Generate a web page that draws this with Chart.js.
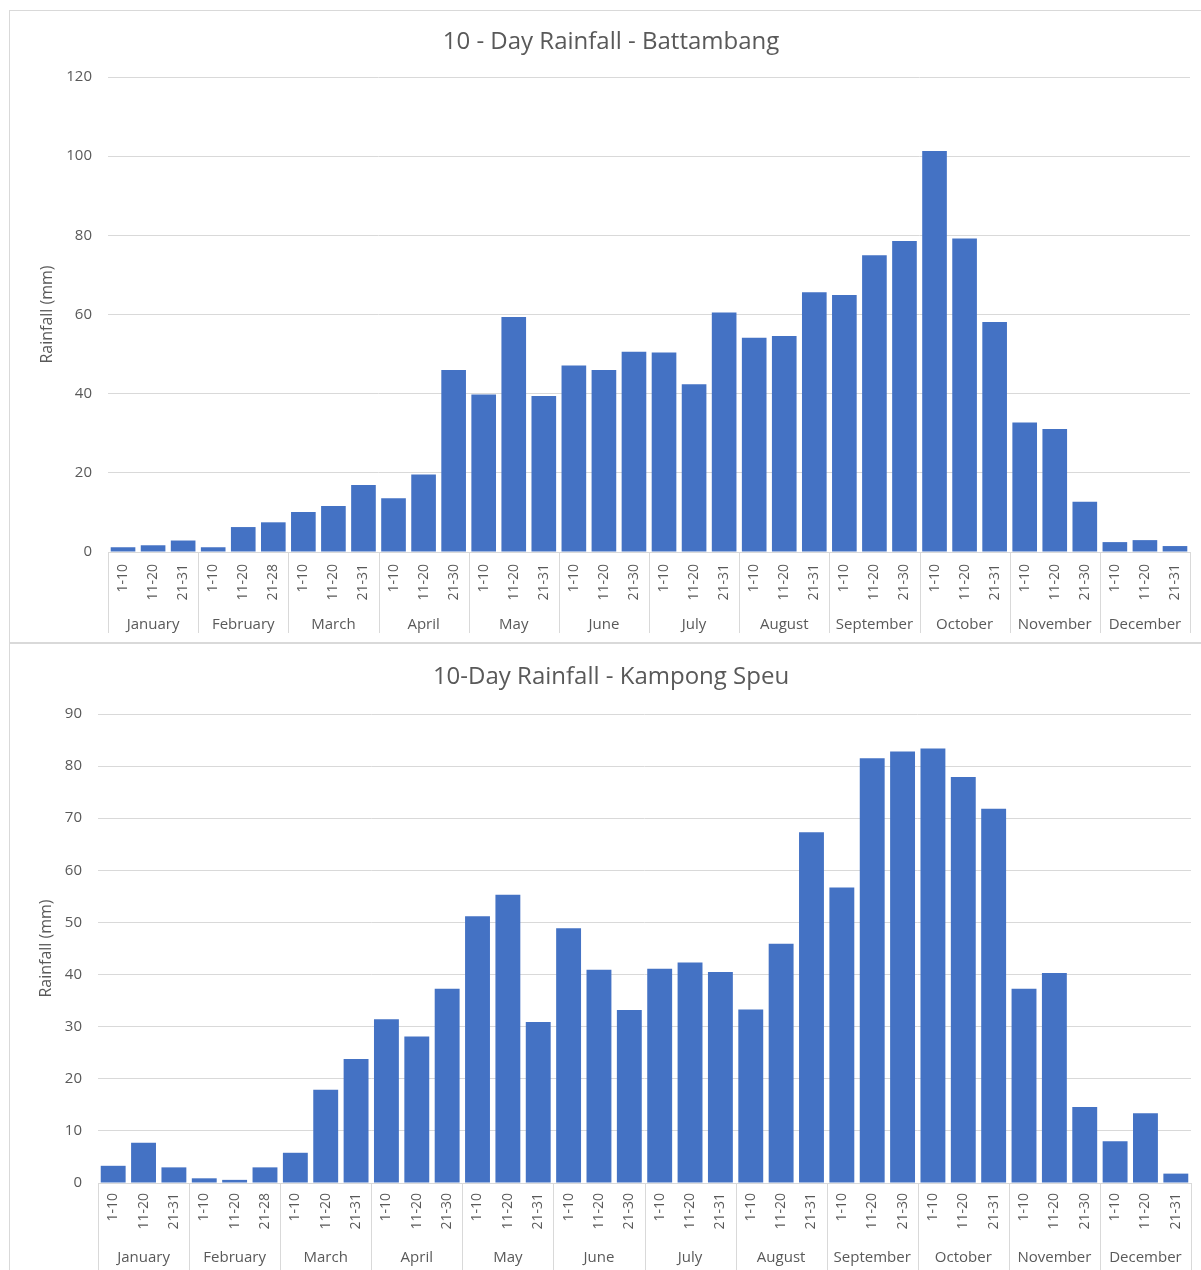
<!DOCTYPE html>
<html>
<head>
<meta charset="utf-8">
<title>10-Day Rainfall</title>
<script src="https://cdn.jsdelivr.net/npm/chart.js@4.4.1/dist/chart.umd.min.js"></script>
<style>
  html, body { margin: 0; padding: 0; background: #fff; width: 1201px; height: 1270px; overflow: hidden; }
  .panel { position: absolute; left: 9px; width: 1204px; background: #fff; }
  .panel canvas { position: absolute; left: 0; top: 0; display: block; }
  .frame { position: absolute; left: 0; top: 0; right: 0; bottom: 0; border: 1px solid #d9d9d9; pointer-events: none; }
  #panelTop { top: 10px; height: 633px; }
  #panelBottom { top: 643px; height: 640px; }
</style>
</head>
<body>
<div class="panel" id="panelTop"><canvas id="chartTop" width="1204" height="633"></canvas><div class="frame"></div></div>
<div class="panel" id="panelBottom"><canvas id="chartBottom" width="1204" height="640"></canvas><div class="frame"></div></div>
<script>
// Months shown on the outer category row
const months = ['January', 'February', 'March', 'April', 'May', 'June',
                'July', 'August', 'September', 'October', 'November', 'December'];

// Dekad (10-day period) labels, three per month
const periodLabels = [
  '1-10', '11-20', '21-31',   // Jan
  '1-10', '11-20', '21-28',   // Feb
  '1-10', '11-20', '21-31',   // Mar
  '1-10', '11-20', '21-30',   // Apr
  '1-10', '11-20', '21-31',   // May
  '1-10', '11-20', '21-30',   // Jun
  '1-10', '11-20', '21-31',   // Jul
  '1-10', '11-20', '21-31',   // Aug
  '1-10', '11-20', '21-30',   // Sep
  '1-10', '11-20', '21-31',   // Oct
  '1-10', '11-20', '21-30',   // Nov
  '1-10', '11-20', '21-31'    // Dec
];

// 10-day rainfall totals (mm)
const battambangRain = [
  1.2, 1.7, 2.9,
  1.2, 6.3, 7.5,
  10.1, 11.6, 16.9,
  13.6, 19.6, 46.0,
  39.8, 59.4, 39.4,
  47.1, 46.0, 50.6,
  50.4, 42.4, 60.5,
  54.1, 54.6, 65.6,
  64.9, 75.0, 78.6,
  101.3, 79.2, 58.1,
  32.7, 31.1, 12.7,
  2.5, 3.0, 1.5
];

const kampongSpeuRain = [
  3.3, 7.7, 3.0,
  0.9, 0.6, 3.0,
  5.8, 17.9, 23.8,
  31.4, 28.1, 37.3,
  51.2, 55.3, 30.9,
  48.9, 40.9, 33.2,
  41.1, 42.3, 40.5,
  33.3, 45.9, 67.3,
  56.7, 81.5, 82.8,
  83.4, 77.9, 71.8,
  37.3, 40.3, 14.6,
  8.0, 13.4, 1.8
];

// Y-axis ranges
const battambangTicks = { max: 120, step: 20 };
const kampongSpeuTicks = { max: 90, step: 10 };

const FONT = '"Open Sans", "Noto Sans", sans-serif';
const TEXT = '#595959';
const GRID = '#d9d9d9';
const BAR = '#4472C4';
const PER_MONTH = 3;

// Draws the month row under the dekad labels, with separators between months
const monthGroupPlugin = {
  id: 'monthGroups',
  afterDraw(chart, args, opts) {
    const xs = chart.scales.x;
    const ctx = chart.ctx;
    const top = xs.top;
    ctx.save();
    ctx.strokeStyle = GRID;
    ctx.lineWidth = 1;
    for (let k = 0; k <= months.length; k++) {
      let px;
      if (k === 0) px = xs.left;
      else if (k === months.length) px = xs.right;
      else px = (xs.getPixelForValue(k * PER_MONTH - 1) + xs.getPixelForValue(k * PER_MONTH)) / 2;
      px = Math.round(px) + 0.5;
      ctx.beginPath();
      ctx.moveTo(px, top);
      ctx.lineTo(px, top + opts.lineLength);
      ctx.stroke();
    }
    ctx.fillStyle = TEXT;
    ctx.font = '15px ' + FONT;
    ctx.textAlign = 'center';
    ctx.textBaseline = 'middle';
    months.forEach((m, k) => {
      ctx.fillText(m, xs.getPixelForValue(k * PER_MONTH + 1), top + opts.labelOffset);
    });
    ctx.restore();
  }
};

function rainfallChart(canvasId, title, values, ticks, g) {
  return new Chart(document.getElementById(canvasId), {
    type: 'bar',
    data: {
      labels: periodLabels,
      datasets: [{
        data: values,
        backgroundColor: BAR,
        borderWidth: 0,
        barPercentage: 0.82,
        categoryPercentage: 1
      }]
    },
    options: {
      responsive: false,
      animation: false,
      layout: { padding: { left: g.side, right: g.side, top: 0, bottom: 0 } },
      plugins: {
        legend: { display: false },
        tooltip: { enabled: false },
        title: {
          display: true,
          text: title,
          color: TEXT,
          font: { family: FONT, size: 24, weight: 'normal' },
          padding: { top: g.titleTop, bottom: g.titleBottom }
        },
        monthGroups: { lineLength: g.sepLength, labelOffset: g.monthOffset }
      },
      scales: {
        x: {
          grid: { display: false, drawTicks: false },
          border: { display: true, color: GRID, width: 1 },
          ticks: {
            autoSkip: false,
            minRotation: 90,
            maxRotation: 90,
            padding: g.tickPad,
            color: TEXT,
            font: { family: FONT, size: 14 }
          },
          afterFit(scale) { scale.height = g.xHeight; }
        },
        y: {
          min: 0,
          max: ticks.max,
          ticks: {
            stepSize: ticks.step,
            padding: 16,
            color: TEXT,
            font: { family: FONT, size: 15 }
          },
          grid: { color: GRID, lineWidth: 1, drawTicks: false },
          border: { display: false },
          title: {
            display: true,
            text: 'Rainfall (mm)',
            color: TEXT,
            font: { family: FONT, size: 16 },
            padding: { top: 6, bottom: 0 }
          },
          afterFit(scale) { scale.width = g.yWidth; }
        }
      }
    },
    plugins: [monthGroupPlugin]
  });
}

rainfallChart('chartTop', '10 - Day Rainfall - Battambang', battambangRain, battambangTicks, {
  side: 23, yWidth: 76, titleTop: 17.4, titleBottom: 20.8,
  xHeight: 91, tickPad: 12, sepLength: 81, monthOffset: 73
});

rainfallChart('chartBottom', '10-Day Rainfall - Kampong Speu', kampongSpeuRain, kampongSpeuTicks, {
  side: 22, yWidth: 67, titleTop: 19.4, titleBottom: 22.8,
  xHeight: 100, tickPad: 10, sepLength: 100, monthOffset: 75
});
</script>
</body>
</html>
